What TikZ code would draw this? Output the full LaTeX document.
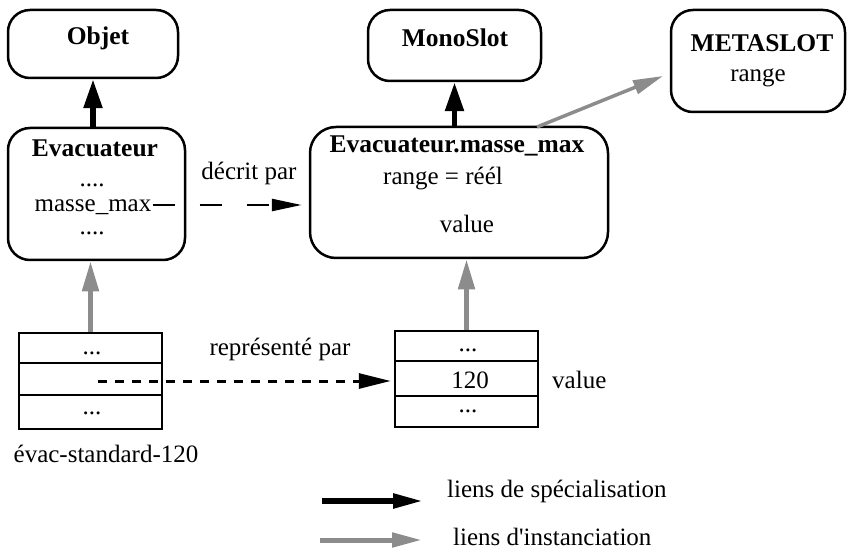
\documentclass[tikz,border=0pt]{standalone}
\usepackage{fontspec}
\setmainfont{Liberation Serif}
\usetikzlibrary{arrows.meta}
\definecolor{instgray}{RGB}{140,140,140}
\tikzset{
  rbox/.style={draw=black, line width=2.5pt, rounded corners=22pt, inner sep=0pt},
  cell/.style={draw=black, line width=2.5pt, inner sep=0pt, minimum width=143pt},
  txt/.style={inner sep=0pt, anchor=base, font=\fontsize{25}{29}\selectfont},
  btxt/.style={txt, font=\fontsize{25.5}{29}\selectfont\bfseries},
  spec/.style={line width=5.5pt, -{Triangle[length=29pt,width=18pt]}},
  inst/.style={instgray, line width=5pt, -{Triangle[length=30pt,width=16pt]}},
  instthin/.style={instgray, line width=3.5pt, -{Triangle[length=30pt,width=14pt]}},
  descr/.style={line width=2.5pt, dash pattern=on 22pt off 25pt, -{Triangle[length=30pt,width=12pt]}},
  repr/.style={line width=3pt, dash pattern=on 8.5pt off 8.5pt, -{Triangle[length=32pt,width=15pt]}},
}
\begin{document}
\begin{tikzpicture}[x=1pt,y=-1pt]
\useasboundingbox (0,0) rectangle (848,553);
% boxes
\node[rbox, minimum width=170pt, minimum height=68pt] (objet) at (93,44) {};
\node[rbox, minimum width=177pt, minimum height=132pt] (evac) at (96.5,194) {};
\node[rbox, minimum width=173pt, minimum height=71pt] (mono) at (454.5,45.5) {};
\node[rbox, minimum width=174pt, minimum height=102pt] (meta) at (758,61) {};
\node[rbox, rounded corners=26pt, minimum width=298pt, minimum height=131pt] (masse) at (459,192.5) {};
% texts in boxes
\node[btxt] (tobjet) at (98,45) {Objet};
\node[btxt] (tevac) at (95,157) {Evacuateur};
\node[txt] (d1) at (92,187) {....};
\node[txt] (mmx) at (93,212) {masse\_max};
\node[txt] (d2) at (92,235) {....};
\node[btxt] (tmono) at (455,47) {MonoSlot};
\node[btxt] (tmeta) at (762,52) {METASLOT};
\node[txt] (trange) at (758,82) {range};
\node[btxt] (tmasse) at (457,153) {Evacuateur.masse\_max};
\node[txt] (treel) at (443,185) {range = réél};
\node[txt] (tvalue) at (467,233) {value};
% left table
\node[cell, minimum height=30pt] (lt1) at (90.5,348) {};
\node[cell, minimum height=32pt] (lt2) at (90.5,379) {};
\node[cell, minimum height=34pt] (lt3) at (90.5,412) {};
\node[txt] (ltd1) at (92,354) {...};
\node[txt] (ltd3) at (92,414) {...};
\node[txt] (tevs) at (106,462) {évac-standard-120};
% right table
\node[cell, minimum height=30pt] (rt1) at (466.5,346) {};
\node[cell, minimum height=35pt] (rt2) at (466.5,378.5) {};
\node[cell, minimum height=31pt] (rt3) at (466.5,411.5) {};
\node[txt] (rtd1) at (468,351) {...};
\node[txt] (rt120) at (470,388) {120};
\node[txt] (rtd3) at (468,412) {...};
\node[txt, anchor=base west] (tval2) at (552,388) {value};
% labels
\node[txt] (tdecrit) at (249,180) {décrit par};
\node[txt] (trepr) at (280,355) {représenté par};
% connectors
\draw[spec] (objet.south |- evac.north) -- (objet.south);
\draw[spec] (mono.south |- masse.north) -- (mono.south);
\coordinate (mstart) at (537,127);
\coordinate (mend) at (663,76);
\draw[instthin] (mstart) -- (mend);
\draw[inst] (lt1.north) -- (lt1.north |- evac.south);
\draw[inst] (rt1.north) -- (rt1.north |- masse.south);
\draw[descr, shorten >=7pt] ([xshift=1pt,yshift=7pt]mmx.base east) -- ([yshift=7pt]mmx.base east -| masse.west);
\coordinate (rstart) at (98,381);
\draw[repr, shorten >=3pt] (rstart) -- (rstart -| rt2.west);
% legend
\coordinate (l1a) at (322,501);
\coordinate (l1b) at (423,501);
\coordinate (l2a) at (320,540);
\coordinate (l2b) at (422,540);
\draw[spec, -{Triangle[length=30pt,width=14pt]}] (l1a) -- (l1b);
\draw[inst, -{Triangle[length=30pt,width=14pt]}] (l2a) -- (l2b);
\node[txt, anchor=base west] (tleg1) at (447,497) {liens de spécialisation};
\node[txt, anchor=base west] (tleg2) at (453,545) {liens d\textquotesingle instanciation};
\end{tikzpicture}
\end{document}
